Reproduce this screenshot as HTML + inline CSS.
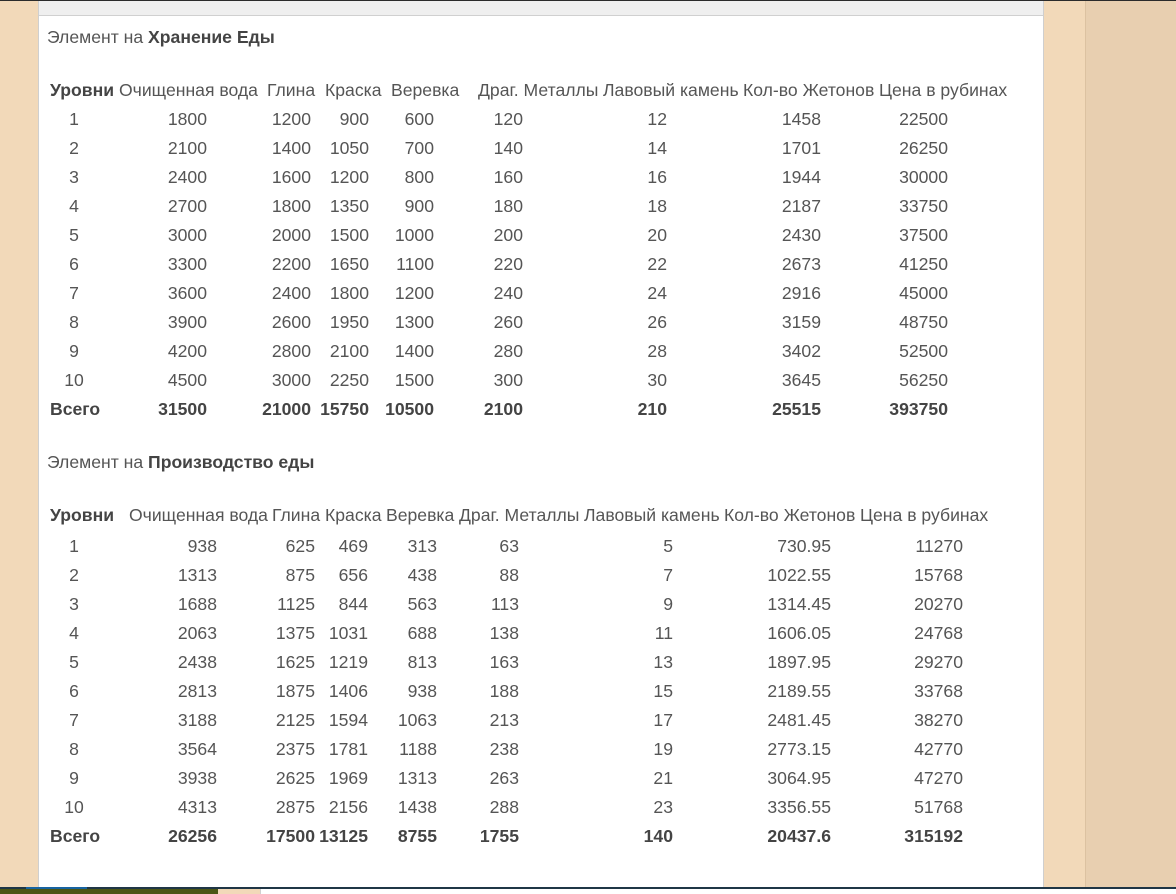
<!DOCTYPE html>
<html><head><meta charset="utf-8">
<style>
html,body{margin:0;padding:0;}
body{width:1176px;height:894px;position:relative;overflow:hidden;background:#f2d9b9;font-family:"Liberation Sans",Arial,sans-serif;font-size:17.6px;color:#555;}
.topline{position:absolute;left:0;top:0;width:1176px;height:1px;background:#2b2b2b;z-index:5}
.rightdark{position:absolute;left:1085px;top:0;width:91px;height:894px;background:#e8cfb0;border-left:1px solid #dcc2a1;}
.panel{position:absolute;left:38px;top:0;width:1004px;height:887px;background:#fff;border-left:1px solid #cfcfcf;border-right:1px solid #cfcfcf;}
.band{position:absolute;left:0;top:1px;width:1004px;height:14px;background:#efefef;border-bottom:1px solid #d0d0d0;}
.botline{position:absolute;left:0;top:887px;width:1176px;height:2px;background:#1f3646;z-index:5}
.blue{position:absolute;left:26px;top:887px;width:61px;height:2px;background:#1763a0;z-index:6}
.olive{position:absolute;left:0;top:889px;width:218px;height:5px;background:#4b5515}
.beige2{position:absolute;left:218px;top:889px;width:42px;height:5px;background:#f2d9b9;border-right:1px solid #d0d0d0}
.white2{position:absolute;left:261px;top:889px;width:915px;height:5px;background:#fff}
.t{position:absolute;white-space:nowrap;line-height:20px;height:20px;}
.b{font-weight:bold;color:#444;}
.r{position:absolute;left:0;top:0;width:1176px;height:20px;}
.r div{position:absolute;top:0;line-height:20px;white-space:nowrap;text-align:right;width:120px;}
.r div.lv{text-align:center;width:40px;left:54px;}
.r div.tot{text-align:left;left:50px;}
.A .c2{left:87px}.A .c3{left:191px}.A .c4{left:249px}.A .c5{left:314px}.A .c6{left:403px}.A .c7{left:547px}.A .c8{left:701px}.A .c9{left:828px}
.B .c2{left:97px}.B .c3{left:195px}.B .c4{left:248px}.B .c5{left:317px}.B .c6{left:399px}.B .c7{left:553px}.B .c8{left:711px}.B .c9{left:843px}
.h{position:absolute;white-space:nowrap;line-height:20px;}
</style></head><body>
<div class="rightdark"></div>
<div class="panel"><div class="band"></div></div>
<div class="topline"></div>
<div class="botline"></div><div class="blue"></div>
<div class="olive"></div><div class="beige2"></div><div class="white2"></div>

<div class="t" style="left:47px;top:27px;">Элемент на <b class="b">Хранение Еды</b></div>

<div class="h b" style="left:50px;top:80px;">Уровни</div>
<div class="h" style="left:119px;top:80px;">Очищенная вода</div>
<div class="h" style="left:267px;top:80px;">Глина</div>
<div class="h" style="left:325px;top:80px;">Краска</div>
<div class="h" style="left:391px;top:80px;">Веревка</div>
<div class="h" style="left:478px;top:80px;">Драг. Металлы</div>
<div class="h" style="left:603px;top:80px;">Лавовый камень</div>
<div class="h" style="left:743px;top:80px;">Кол-во Жетонов</div>
<div class="h" style="left:879px;top:80px;">Цена в рубинах</div>

<div class="r A" style="top:109px"><div class="lv">1</div><div class="c2">1800</div><div class="c3">1200</div><div class="c4">900</div><div class="c5">600</div><div class="c6">120</div><div class="c7">12</div><div class="c8">1458</div><div class="c9">22500</div></div>
<div class="r A" style="top:138px"><div class="lv">2</div><div class="c2">2100</div><div class="c3">1400</div><div class="c4">1050</div><div class="c5">700</div><div class="c6">140</div><div class="c7">14</div><div class="c8">1701</div><div class="c9">26250</div></div>
<div class="r A" style="top:167px"><div class="lv">3</div><div class="c2">2400</div><div class="c3">1600</div><div class="c4">1200</div><div class="c5">800</div><div class="c6">160</div><div class="c7">16</div><div class="c8">1944</div><div class="c9">30000</div></div>
<div class="r A" style="top:196px"><div class="lv">4</div><div class="c2">2700</div><div class="c3">1800</div><div class="c4">1350</div><div class="c5">900</div><div class="c6">180</div><div class="c7">18</div><div class="c8">2187</div><div class="c9">33750</div></div>
<div class="r A" style="top:225px"><div class="lv">5</div><div class="c2">3000</div><div class="c3">2000</div><div class="c4">1500</div><div class="c5">1000</div><div class="c6">200</div><div class="c7">20</div><div class="c8">2430</div><div class="c9">37500</div></div>
<div class="r A" style="top:254px"><div class="lv">6</div><div class="c2">3300</div><div class="c3">2200</div><div class="c4">1650</div><div class="c5">1100</div><div class="c6">220</div><div class="c7">22</div><div class="c8">2673</div><div class="c9">41250</div></div>
<div class="r A" style="top:283px"><div class="lv">7</div><div class="c2">3600</div><div class="c3">2400</div><div class="c4">1800</div><div class="c5">1200</div><div class="c6">240</div><div class="c7">24</div><div class="c8">2916</div><div class="c9">45000</div></div>
<div class="r A" style="top:312px"><div class="lv">8</div><div class="c2">3900</div><div class="c3">2600</div><div class="c4">1950</div><div class="c5">1300</div><div class="c6">260</div><div class="c7">26</div><div class="c8">3159</div><div class="c9">48750</div></div>
<div class="r A" style="top:341px"><div class="lv">9</div><div class="c2">4200</div><div class="c3">2800</div><div class="c4">2100</div><div class="c5">1400</div><div class="c6">280</div><div class="c7">28</div><div class="c8">3402</div><div class="c9">52500</div></div>
<div class="r A" style="top:370px"><div class="lv">10</div><div class="c2">4500</div><div class="c3">3000</div><div class="c4">2250</div><div class="c5">1500</div><div class="c6">300</div><div class="c7">30</div><div class="c8">3645</div><div class="c9">56250</div></div>
<div class="r A b" style="top:399px"><div class="tot">Всего</div><div class="c2">31500</div><div class="c3">21000</div><div class="c4">15750</div><div class="c5">10500</div><div class="c6">2100</div><div class="c7">210</div><div class="c8">25515</div><div class="c9">393750</div></div>

<div class="t" style="left:47px;top:452px;">Элемент на <b class="b">Производство еды</b></div>

<div class="h b" style="left:50px;top:505px;">Уровни</div>
<div class="h" style="left:129px;top:505px;">Очищенная вода</div>
<div class="h" style="left:272px;top:505px;">Глина</div>
<div class="h" style="left:325px;top:505px;">Краска</div>
<div class="h" style="left:386px;top:505px;">Веревка</div>
<div class="h" style="left:459px;top:505px;">Драг. Металлы</div>
<div class="h" style="left:584px;top:505px;">Лавовый камень</div>
<div class="h" style="left:724px;top:505px;">Кол-во Жетонов</div>
<div class="h" style="left:860px;top:505px;">Цена в рубинах</div>

<div class="r B" style="top:536px"><div class="lv">1</div><div class="c2">938</div><div class="c3">625</div><div class="c4">469</div><div class="c5">313</div><div class="c6">63</div><div class="c7">5</div><div class="c8">730.95</div><div class="c9">11270</div></div>
<div class="r B" style="top:565px"><div class="lv">2</div><div class="c2">1313</div><div class="c3">875</div><div class="c4">656</div><div class="c5">438</div><div class="c6">88</div><div class="c7">7</div><div class="c8">1022.55</div><div class="c9">15768</div></div>
<div class="r B" style="top:594px"><div class="lv">3</div><div class="c2">1688</div><div class="c3">1125</div><div class="c4">844</div><div class="c5">563</div><div class="c6">113</div><div class="c7">9</div><div class="c8">1314.45</div><div class="c9">20270</div></div>
<div class="r B" style="top:623px"><div class="lv">4</div><div class="c2">2063</div><div class="c3">1375</div><div class="c4">1031</div><div class="c5">688</div><div class="c6">138</div><div class="c7">11</div><div class="c8">1606.05</div><div class="c9">24768</div></div>
<div class="r B" style="top:652px"><div class="lv">5</div><div class="c2">2438</div><div class="c3">1625</div><div class="c4">1219</div><div class="c5">813</div><div class="c6">163</div><div class="c7">13</div><div class="c8">1897.95</div><div class="c9">29270</div></div>
<div class="r B" style="top:681px"><div class="lv">6</div><div class="c2">2813</div><div class="c3">1875</div><div class="c4">1406</div><div class="c5">938</div><div class="c6">188</div><div class="c7">15</div><div class="c8">2189.55</div><div class="c9">33768</div></div>
<div class="r B" style="top:710px"><div class="lv">7</div><div class="c2">3188</div><div class="c3">2125</div><div class="c4">1594</div><div class="c5">1063</div><div class="c6">213</div><div class="c7">17</div><div class="c8">2481.45</div><div class="c9">38270</div></div>
<div class="r B" style="top:739px"><div class="lv">8</div><div class="c2">3564</div><div class="c3">2375</div><div class="c4">1781</div><div class="c5">1188</div><div class="c6">238</div><div class="c7">19</div><div class="c8">2773.15</div><div class="c9">42770</div></div>
<div class="r B" style="top:768px"><div class="lv">9</div><div class="c2">3938</div><div class="c3">2625</div><div class="c4">1969</div><div class="c5">1313</div><div class="c6">263</div><div class="c7">21</div><div class="c8">3064.95</div><div class="c9">47270</div></div>
<div class="r B" style="top:797px"><div class="lv">10</div><div class="c2">4313</div><div class="c3">2875</div><div class="c4">2156</div><div class="c5">1438</div><div class="c6">288</div><div class="c7">23</div><div class="c8">3356.55</div><div class="c9">51768</div></div>
<div class="r B b" style="top:826px"><div class="tot">Всего</div><div class="c2">26256</div><div class="c3">17500</div><div class="c4">13125</div><div class="c5">8755</div><div class="c6">1755</div><div class="c7">140</div><div class="c8">20437.6</div><div class="c9">315192</div></div>
</body></html>
